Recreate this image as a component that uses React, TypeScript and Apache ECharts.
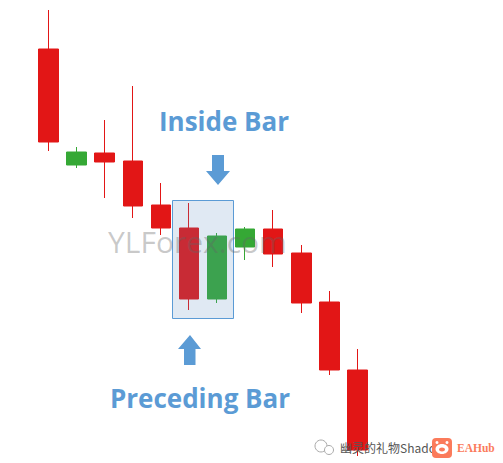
import React, { useEffect, useRef } from "react";
import * as echarts from "echarts";

const categories = ["1", "2", "3", "4", "5", "6", "7", "8", "9", "10", "11", "12"];
const opens = [414, 298, 310, 302, 258, 235, 164, 216, 234, 210, 161, 93];
const closes = [321, 311, 301, 257, 235, 164, 227, 234, 209, 160, 93, 13];
const lows = [312, 295, 265, 245, 228, 153, 160, 203, 196, 150, 88, 7];
const highs = [453, 316, 343, 377, 280, 260, 230, 236, 253, 218, 172, 114];

const headlineTop = "Inside Bar";
const headlineBottom = "Preceding Bar";
const watermark = "YLForex.com";
const account = "幽灵的礼物Shado";
const brand = "EAHub";

const RED = "#e21616";
const GREEN = "#35a835";
const BLUE = "#5b9bd5";

export default function App() {
  const ref = useRef<HTMLDivElement>(null);
  useEffect(() => {
    const chart = echarts.init(ref.current!, undefined, { renderer: "svg" });
    chart.setOption({
      animation: false,
      backgroundColor: "#ffffff",
      grid: { left: 34.5, top: 0, width: 337, height: 463 },
      xAxis: {
        type: "category",
        data: categories,
        boundaryGap: true,
        show: false,
      },
      yAxis: { type: "value", min: 0, max: 463, show: false },
      series: [
        {
          type: "candlestick",
          barWidth: 20,
          clip: false,
          data: categories.map((_, i) => ({
            value: [opens[i], closes[i], lows[i], highs[i]],
            itemStyle: { borderJoin: "miter", borderMiterLimit: 10 },
          })),
          itemStyle: {
            color: GREEN,
            color0: RED,
            borderColor: GREEN,
            borderColor0: RED,
            borderWidth: 1,
            borderJoin: "miter",
            borderMiterLimit: 10,
          },
        },
      ],
      graphic: [
        {
          type: "rect",
          z: 10,
          shape: { x: 172.5, y: 200.5, width: 61, height: 118 },
          style: { fill: "rgba(91,136,190,0.19)", stroke: BLUE, lineWidth: 1 },
        },
        {
          type: "polygon",
          z: 11,
          shape: { points: [[212, 155], [224, 155], [224, 171], [230, 171], [218, 185], [206, 171], [212, 171]] },
          style: { fill: BLUE },
        },
        {
          type: "polygon",
          z: 11,
          shape: { points: [[190, 335], [201, 349], [195.5, 349], [195.5, 365], [184, 365], [184, 349], [178, 349]] },
          style: { fill: BLUE },
        },
        {
          type: "text",
          z: 11,
          style: {
            x: 224, y: 121, text: headlineTop, fill: BLUE, align: "center", verticalAlign: "middle",
            font: "bold 26px 'Open Sans'",
          },
        },
        {
          type: "text",
          z: 11,
          style: {
            x: 200, y: 398, text: headlineBottom, fill: BLUE, align: "center", verticalAlign: "middle",
            font: "bold 26px 'Open Sans'",
          },
        },
        {
          type: "text",
          z: 12,
          style: {
            x: 108, y: 241, text: watermark, fill: "rgba(100,100,100,0.35)", align: "left", verticalAlign: "middle",
            font: "30px 'Open Sans'",
          },
        },
        {
          type: "circle",
          z: 13,
          shape: { cx: 321, cy: 446, r: 6 },
          style: { fill: "#ffffff", stroke: "#aaaaaa", lineWidth: 1 },
        },
        {
          type: "circle",
          z: 13,
          shape: { cx: 329, cy: 450, r: 4.5 },
          style: { fill: "#ffffff", stroke: "#aaaaaa", lineWidth: 1 },
        },
        {
          type: "text",
          z: 13,
          style: {
            x: 340, y: 447, text: account, fill: "#555555", align: "left", verticalAlign: "middle",
            font: "12px 'Noto Sans CJK SC'",
          },
        },
        {
          type: "rect",
          z: 13,
          shape: { x: 432, y: 438, width: 20, height: 20, r: 4 },
          style: { fill: "#fb7b5b" },
        },
        {
          type: "ellipse",
          z: 14,
          shape: { cx: 442, cy: 449, rx: 6.5, ry: 5 },
          style: { fill: "#ffffff" },
        },
        {
          type: "circle",
          z: 14,
          shape: { cx: 437, cy: 442.5, r: 1.5 },
          style: { fill: "#ffffff" },
        },
        {
          type: "circle",
          z: 14,
          shape: { cx: 447, cy: 442.5, r: 1.5 },
          style: { fill: "#ffffff" },
        },
        {
          type: "ellipse",
          z: 15,
          shape: { cx: 442, cy: 449.5, rx: 3, ry: 2 },
          style: { fill: "#fb7b5b" },
        },
        {
          type: "text",
          z: 13,
          style: {
            x: 457, y: 448, text: brand, fill: "#fb7b5b", align: "left", verticalAlign: "middle",
            font: "bold 11.5px 'Liberation Serif'",
          },
        },
      ],
    });
    return () => chart.dispose();
  }, []);
  return (
    <div
      ref={ref}
      style={{ position: "fixed", left: 0, top: 0, width: 503, height: 463 }}
    />
  );
}
